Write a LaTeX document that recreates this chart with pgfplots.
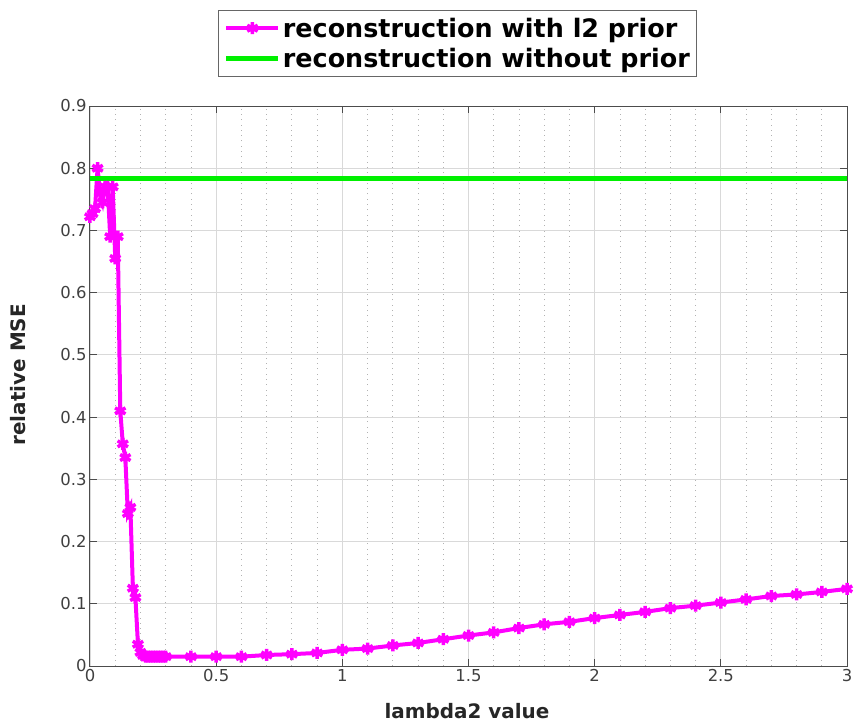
\documentclass[border=0pt]{standalone}
\usepackage{pgfplots}
\pgfplotsset{compat=1.18}
\usepackage{fontspec}
\setmainfont{DejaVu Sans}
\definecolor{mag}{RGB}{255,0,255}
\definecolor{grn}{RGB}{0,240,0}
\begin{document}
\begin{tikzpicture}
\begin{axis}[
  scale only axis, width=757bp, height=560bp,
  xmin=0, xmax=3, ymin=0, ymax=0.9,
  xtick={0,0.5,1,1.5,2,2.5,3},
  xticklabels={0,0.5,1,1.5,2,2.5,3},
  ytick={0,0.1,0.2,0.3,0.4,0.5,0.6,0.7,0.8,0.9},
  yticklabels={0,0.1,0.2,0.3,0.4,0.5,0.6,0.7,0.8,0.9},
  minor xtick={0.1,0.2,0.3,0.4,0.6,0.7,0.8,0.9,1.1,1.2,1.3,1.4,1.6,1.7,1.8,1.9,2.1,2.2,2.3,2.4,2.6,2.7,2.8,2.9},
  xmajorgrids=true, ymajorgrids=true, xminorgrids=true,
  major grid style={draw=black!15, line width=0.8bp},
  minor grid style={draw=black!30, line width=0.8bp, dash pattern=on 0.8bp off 4.5bp},
  tick align=inside, major tick length=7bp, minor tick length=0bp,
  axis line style={black!70, line width=1bp},
  every tick/.style={black!70, line width=1bp},
  ticklabel style={font=\fontsize{16.5}{18}\selectfont, text=black!75},
  xlabel={lambda2 value}, ylabel={relative MSE},
  label style={font=\fontsize{20}{22}\selectfont\bfseries, text=black!85},
  xlabel style={at={(axis description cs:0.498,-0.080)}, anchor=center},
  ylabel style={at={(axis description cs:-0.0945,0.52)}, anchor=center},
  legend style={at={(axis description cs:0.486,1.052)}, anchor=south,
    draw=black!60, line width=1bp, fill=white,
    font=\fontsize{25.5}{27}\selectfont\bfseries, text=black,
    inner xsep=5bp, inner ysep=5bp, row sep=6bp},
  legend cell align=left,
  legend image code/.code={%
    \draw[mark repeat=2,mark phase=2,#1] plot coordinates {(0bp,0bp) (26bp,0bp) (52bp,0bp)};},
]
\addplot[mag, line width=4bp, mark=asterisk, mark size=6bp, mark options={solid, line width=3.5bp}] coordinates {
(0.00,0.722) (0.01,0.727) (0.02,0.735) (0.03,0.800) (0.04,0.760) (0.05,0.745)
(0.06,0.770) (0.07,0.770) (0.08,0.690) (0.09,0.770) (0.10,0.655) (0.11,0.690)
(0.12,0.410) (0.13,0.357) (0.14,0.335) (0.15,0.245) (0.16,0.255) (0.17,0.125)
(0.18,0.110) (0.19,0.035) (0.20,0.022) (0.21,0.017) (0.22,0.015) (0.23,0.015)
(0.24,0.015) (0.25,0.015) (0.26,0.015) (0.27,0.015) (0.28,0.015) (0.29,0.015)
(0.30,0.015) (0.4,0.015) (0.5,0.015) (0.6,0.015) (0.7,0.0177) (0.8,0.019)
(0.9,0.021) (1.0,0.026) (1.1,0.028) (1.2,0.033) (1.3,0.037) (1.4,0.043)
(1.5,0.049) (1.6,0.054) (1.7,0.061) (1.8,0.067) (1.9,0.071) (2.0,0.077)
(2.1,0.082) (2.2,0.087) (2.3,0.093) (2.4,0.097) (2.5,0.102) (2.6,0.107)
(2.7,0.1125) (2.8,0.115) (2.9,0.119) (3.0,0.124)
};
\addlegendentry{reconstruction with l2 prior}
\addplot[grn, line width=5bp] coordinates {(0,0.783) (3,0.783)};
\addlegendentry{reconstruction without prior}
\end{axis}
\pgfresetboundingbox
\path ([shift={(-90bp,-59bp)}]current axis.south west) rectangle ++(855bp,725bp);
\end{tikzpicture}
\end{document}
